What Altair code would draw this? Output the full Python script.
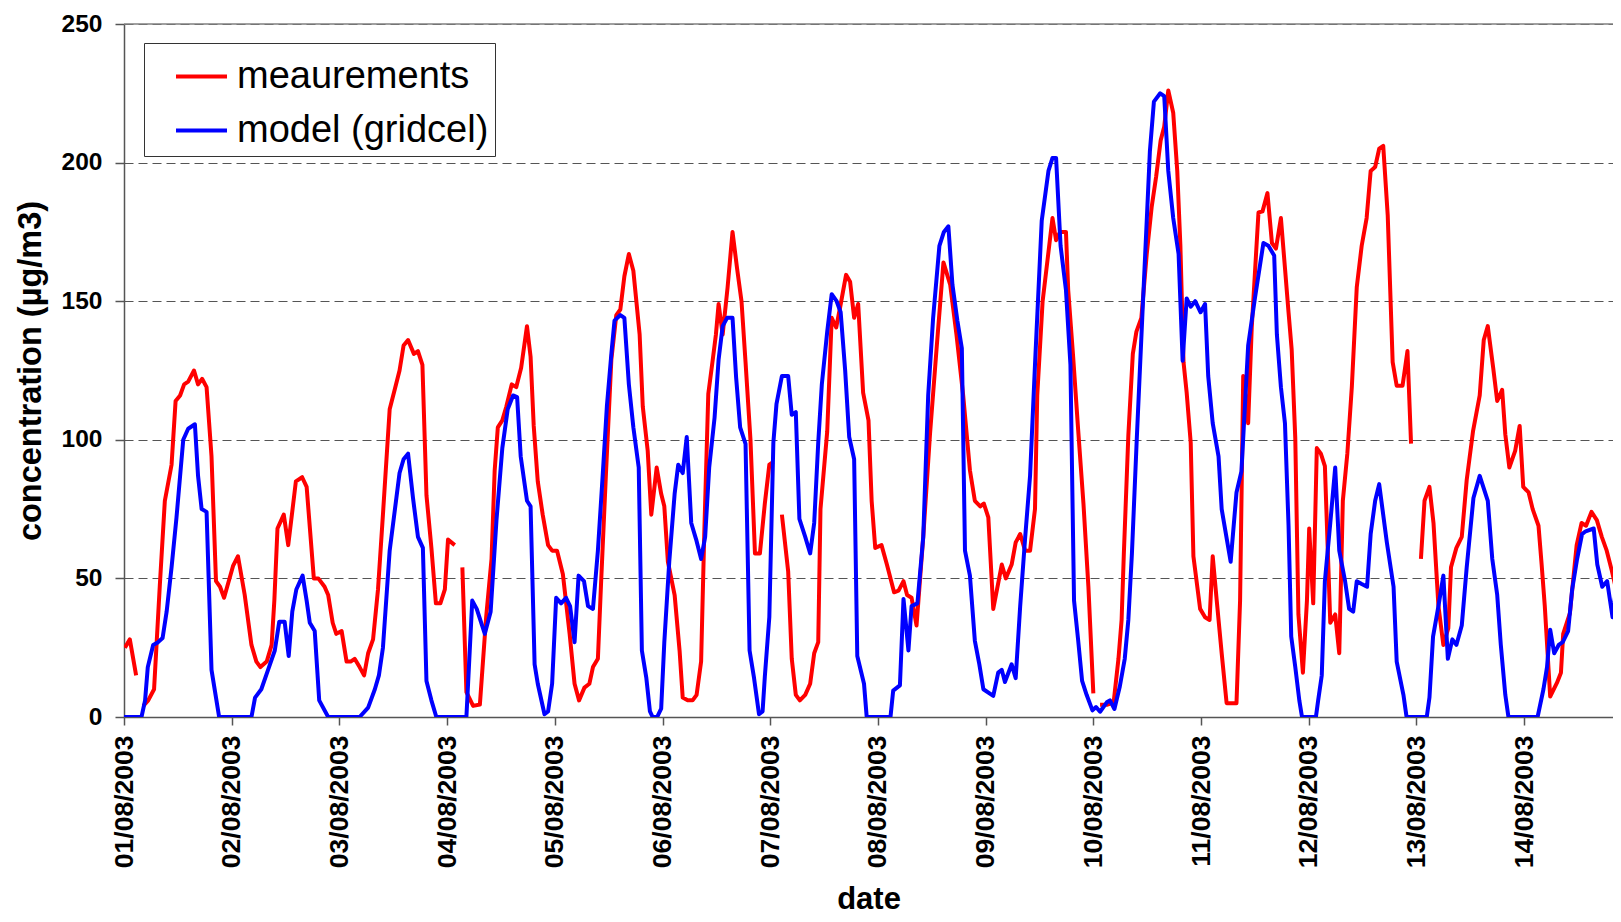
import altair as alt
import pandas as pd

# (hour since 01/08/2003 00:00, concentration); None = missing
meas_points = [
    (0.2, 25), (1.3, 28), (2.7, 15), (3.5, None), (4.3, 4), (5.4, 6), (6.7, 10), (8.0, 48), (9.1, 78),
    (10.6, 91), (11.5, 114), (12.5, 116), (13.4, 120), (14.3, 121), (15.6, 125), (16.5, 120), (17.4, 122),
    (18.4, 119), (19.5, 94), (20.5, 49), (21.4, 47), (22.3, 43), (24.3, 54.5), (25.4, 58), (26.9, 44),
    (28.4, 26), (29.5, 20), (30.4, 18), (31.8, 20), (32.9, 26), (33.5, 42), (34.2, 68), (35.6, 73),
    (36.6, 62), (38.3, 85), (39.7, 86.5), (40.7, 83), (42.3, 50), (43.3, 50), (44.7, 47), (45.5, 44),
    (46.5, 34), (47.3, 30), (48.5, 31), (49.6, 20), (50.5, 20), (51.4, 21), (52.5, 18), (53.5, 15),
    (54.4, 23), (55.5, 28), (56.6, 46), (57.7, 73), (59.2, 111), (60.3, 118), (61.4, 125), (62.3, 134),
    (63.3, 136), (64.6, 131), (65.5, 132), (66.5, 127), (67.4, 80), (68.5, 61), (69.5, 41), (70.5, 41),
    (71.5, 46), (72.2, 64), (73.7, 62), (74.5, None), (75.4, 54), (76.3, 9), (77.8, 4), (79.3, 4.5),
    (80.7, 36), (81.9, 57), (82.6, 89), (83.3, 104.5), (84.3, 107), (85.2, 112), (86.4, 120), (87.4, 119),
    (88.5, 126), (89.8, 141), (90.6, 130), (91.3, 105), (92.2, 85), (93.3, 73), (94.5, 62), (95.4, 60),
    (96.5, 60), (97.8, 51.5), (99.3, 30), (100.4, 12), (101.4, 6), (102.6, 10.6), (103.7, 12), (104.5, 18),
    (105.6, 21), (106.3, 48), (107.4, 88), (108.6, 129), (109.7, 145), (110.6, 147), (111.5, 159),
    (112.5, 167), (113.5, 161), (114.9, 138), (115.6, 112), (116.7, 96), (117.5, 73), (118.7, 90),
    (119.7, 80.5), (120.4, 76), (121.2, 56), (122.7, 44), (123.8, 24), (124.5, 7), (125.6, 6), (126.7, 6),
    (127.6, 8), (128.6, 20), (129.3, 66), (130.2, 116.5), (131.2, 129), (131.9, 138), (132.5, 149),
    (133.4, 138), (134.5, 155), (135.6, 175), (136.6, 162), (137.6, 150), (138.5, 128), (139.6, 100),
    (140.6, 59), (141.7, 59), (142.8, 77), (143.8, 91), (144.7, 92), (145.6, None), (146.6, 73), (148.0, 52.5),
    (148.8, 21), (149.7, 8), (150.6, 6), (151.8, 8), (152.9, 12), (153.8, 23), (154.7, 27), (155.2, 75),
    (156.7, 103), (157.7, 144), (158.7, 140.5), (159.6, 148), (160.9, 159.5), (161.8, 157), (162.7, 144),
    (163.6, 149), (164.7, 117), (165.9, 107), (166.6, 78), (167.4, 61), (168.8, 62), (170.0, 55),
    (171.6, 45), (172.6, 45.6), (173.7, 49), (174.5, 44), (175.5, 43), (176.6, 33), (178.1, 65),
    (179.6, 102), (181.1, 133.5), (182.6, 164), (184.1, 156), (185.5, 138), (187.0, 116), (188.5, 89),
    (189.6, 78), (190.8, 76), (191.6, 77), (192.6, 72), (193.7, 39), (195.6, 55), (196.5, 50), (197.8, 55),
    (198.7, 63), (199.7, 66), (200.8, 60), (201.9, 60), (203.0, 75), (203.5, 116), (204.7, 150),
    (205.8, 165), (206.9, 180), (207.7, 172), (208.6, 175), (209.9, 175), (210.4, 154), (211.5, 130),
    (212.6, 104), (213.8, 77), (214.9, 47), (216.0, 8.5), (216.8, None), (217.5, 4.4), (219.0, 4.4),
    (220.1, 5), (220.6, 6.3), (221.6, 21), (222.3, 35), (222.8, 59), (223.8, 101.5), (224.8, 131),
    (225.6, 139), (226.7, 144), (227.9, 167), (229.0, 184), (230.0, 195), (231.0, 208), (231.8, 213),
    (232.7, 226), (233.8, 218), (234.7, 197), (235.4, 170), (236.1, 128), (236.8, 117), (237.7, 99),
    (238.3, 58), (239.8, 39), (240.9, 36), (241.9, 35), (242.6, 58), (243.5, 42), (244.6, 23), (245.7, 5),
    (247.9, 5), (248.7, 42), (249.4, 123), (250.5, 106), (251.3, 140.5), (252.8, 182), (253.7, 182.4),
    (254.8, 189), (255.8, 171), (256.7, 169), (257.8, 180), (258.7, 162), (259.5, 146), (260.2, 132.5),
    (261.0, 100.6), (261.7, 37), (262.7, 16), (263.6, 42), (264.1, 68), (265.0, 41), (265.8, 97),
    (266.7, 95), (267.6, 90.5), (268.8, 34), (269.9, 37), (270.8, 23), (271.6, 78), (272.6, 95),
    (273.6, 119), (274.7, 155), (275.8, 170), (276.9, 180), (277.8, 197), (278.8, 198.4), (279.7, 205),
    (280.6, 206), (281.6, 181), (282.7, 128), (283.6, 119.5), (284.9, 119.5), (286.0, 132), (286.8, 98.6),
    (288.0, None), (289.0, 57), (289.8, 78), (290.9, 83), (291.8, 70), (292.9, 40), (294.0, 26),
    (295.1, 32), (295.7, 54), (296.9, 61), (298.1, 65), (299.2, 85.5), (300.6, 103), (302.1, 116),
    (303.0, 136), (303.9, 141), (305.1, 126), (306.0, 114), (307.1, 118), (307.8, 102), (308.7, 90),
    (310.0, 96), (311.0, 105), (311.8, 83), (313.0, 81), (313.9, 75), (315.2, 69), (315.9, 55),
    (316.6, 40), (317.8, 7.4), (319.3, 12.3), (320.2, 16), (320.7, 30), (322.2, 37.5), (323.7, 62),
    (324.8, 70), (325.8, 69), (327.0, 74), (328.2, 71), (329.3, 65), (330.4, 60), (331.5, 53),
    (332.5, 46), (333.4, 35),
]

model_points = [
    (0, 0), (3.9, 0), (4.7, 6), (5.3, 18), (6.5, 26), (7.6, 27), (8.6, 28.5), (9.5, 38), (10.6, 54),
    (11.7, 72), (13.2, 100), (14.3, 104), (15.8, 105.6), (16.5, 87), (17.3, 75), (18.4, 74), (19.5, 17),
    (20.6, 6), (21.2, 0), (28.4, 0), (29.2, 7), (30.6, 10), (32.1, 17), (33.6, 24), (34.6, 34.4),
    (35.8, 34.4), (36.7, 22), (37.5, 38), (38.4, 46), (39.8, 51), (40.7, 42), (41.4, 34), (42.5, 31),
    (43.5, 6), (45.5, 0), (52.5, 0), (54.4, 3.4), (55.9, 10), (56.8, 15), (57.7, 25), (59.2, 60),
    (61.4, 88), (62.3, 93), (63.3, 95), (64.4, 79), (65.5, 65), (66.6, 61), (67.4, 13), (68.5, 6),
    (69.6, 0), (76.3, 0), (77.6, 42), (78.6, 39), (80.4, 30), (81.7, 38), (83.0, 71), (84.3, 97),
    (85.5, 111), (86.7, 116), (87.6, 115.4), (88.4, 94), (89.8, 78), (90.6, 76), (91.5, 19), (92.2, 12),
    (93.7, 1), (94.5, 2), (95.4, 12), (96.3, 43), (97.4, 41), (98.5, 43), (99.4, 40), (100.4, 27),
    (101.3, 51), (102.5, 49), (103.4, 40), (104.5, 39), (105.6, 60), (106.7, 88), (107.6, 112),
    (108.6, 131), (109.3, 143), (110.6, 145), (111.5, 144), (112.5, 120), (113.5, 104.5), (114.7, 90),
    (115.4, 24), (116.4, 14), (117.2, 2), (117.8, 0), (118.8, 0), (119.7, 3), (120.4, 27), (121.5, 56),
    (122.7, 80.5), (123.5, 91), (124.5, 88), (125.4, 101), (126.4, 70), (127.5, 64), (128.6, 57),
    (129.5, 65), (130.4, 90), (131.6, 108), (132.5, 129), (133.4, 141), (134.4, 144), (135.6, 144),
    (136.4, 122.5), (137.3, 104.5), (138.5, 98.5), (139.4, 24), (140.4, 14), (141.5, 1), (142.3, 2),
    (142.8, 14.6), (143.8, 36), (144.7, 99), (145.4, 113), (146.6, 123), (148.0, 123), (148.8, 109),
    (149.7, 110), (150.5, 71.5), (151.8, 65), (152.9, 59), (153.8, 70), (154.7, 99), (155.5, 120),
    (156.7, 139), (157.7, 152.5), (158.8, 150), (159.7, 146), (160.7, 125), (161.6, 101), (162.7, 93),
    (163.4, 22), (164.9, 12), (165.5, 0), (170.8, 0), (171.4, 9.5), (172.9, 11.4), (173.7, 42.6),
    (174.8, 24), (175.5, 40), (176.8, 41), (178.1, 65), (179.2, 116), (180.3, 144), (181.7, 170),
    (182.7, 175), (183.7, 177), (184.6, 156), (185.7, 143), (186.7, 133), (187.4, 60), (188.5, 51),
    (189.6, 27.5), (190.6, 19), (191.5, 10), (193.7, 7.6), (194.8, 16), (195.6, 17), (196.3, 12.6),
    (197.8, 19), (198.7, 14), (199.7, 40), (200.8, 64.5), (201.9, 87), (203.0, 127), (204.5, 179),
    (206.0, 197), (206.9, 201.7), (207.7, 201.7), (208.7, 170), (209.9, 154), (210.9, 127), (211.7, 42),
    (212.6, 28), (213.5, 13), (214.5, 8), (215.8, 2.4), (216.6, 3.6), (217.5, 1.9), (219.0, 5.3),
    (219.7, 6), (220.7, 2.9), (221.9, 11), (223.0, 21), (223.8, 35), (224.6, 59), (225.7, 101),
    (226.9, 144), (227.9, 179), (228.6, 204), (229.5, 222), (230.9, 225), (231.8, 224), (232.7, 197),
    (233.8, 180), (235.0, 167), (235.9, 128.5), (236.8, 151), (237.7, 148), (238.7, 150), (239.9, 146),
    (240.9, 149), (241.6, 123), (242.6, 106), (243.9, 94), (244.6, 75), (246.6, 56), (247.9, 81),
    (249.0, 88.6), (250.5, 134), (252.0, 151), (253.9, 171), (255.0, 170), (256.3, 166.5), (256.9, 138),
    (257.8, 119), (258.7, 106), (259.5, 69), (260.1, 29), (261.0, 18), (261.9, 6), (262.5, 0),
    (265.6, 0), (266.1, 6), (266.9, 15), (267.6, 49), (268.8, 70), (269.9, 90), (270.8, 60), (272.1, 49),
    (273.0, 39), (273.9, 38), (274.7, 49), (275.8, 48), (277.0, 47), (277.8, 66), (278.8, 78),
    (279.7, 84), (281.4, 63), (282.9, 47), (283.6, 20), (285.1, 8), (285.8, 0), (290.3, 0), (290.9, 7),
    (291.7, 29), (292.9, 40), (294.0, 51), (295.0, 21), (296.0, 28), (296.9, 26), (298.1, 33),
    (299.2, 54), (300.7, 79), (302.1, 87), (303.9, 78), (304.9, 57), (306.0, 44), (306.8, 26),
    (307.8, 8), (308.5, 0), (315.0, 0), (316.3, 10), (317.1, 18), (317.8, 31.5), (318.7, 23),
    (319.7, 26), (320.6, 27), (321.8, 31), (322.7, 46), (323.8, 57), (324.9, 66), (325.7, 67),
    (327.5, 68), (328.3, 55), (329.4, 47), (330.5, 49), (331.7, 36), (332.6, 48), (333.3, 45),
]

series_names = ["meaurements", "model (gridcel)"]
series_colors = ["#FF0000", "#0000FF"]
day_ticks = [0, 24, 48, 72, 96, 120, 144, 168, 192, 216, 240, 264, 288, 312]
y_ticks = [0, 50, 100, 150, 200, 250]
y_max = 250

rows = []
for name, pts in zip(series_names, [meas_points, model_points]):
    for h, v in pts:
        rows.append({"hour": h, "value": v, "series": name})
df = pd.DataFrame(rows)

FONT = "Liberation Sans"
AX = "#555555"

x_axis = alt.Axis(
    values=day_ticks,
    labelExpr="(floor(datum.value/24)+1 < 10 ? '0' : '') + (floor(datum.value/24)+1) + '/08/2003'",
    labelAngle=270, labelFont=FONT, labelFontSize=26.5, labelFontWeight="bold", labelColor="black",
    labelPadding=10, labelFlush=False, labelOverlap=False,
    tickSize=8, tickColor=AX, tickWidth=1.5, domainColor=AX, domainWidth=1.5, grid=False,
    title="date", titleFont=FONT, titleFontSize=31, titleFontWeight="bold", titleColor="black",
    titleBaseline="alphabetic", titleY=191,
)
y_axis = alt.Axis(
    values=y_ticks, labelFont=FONT, labelFontSize=24.5, labelFontWeight="bold", labelColor="black",
    labelPadding=13, tickSize=9, tickColor=AX, tickWidth=1.5, domainColor=AX, domainWidth=1.5,
    grid=True, gridDash=[9, 5], gridColor=AX, gridWidth=1,
    title="concentration (µg/m3)", titleFont=FONT, titleFontSize=32.5, titleFontWeight="bold",
    titleColor="black", titlePadding=14,
)

lines = alt.Chart(df).mark_line(strokeWidth=4, strokeJoin="round", clip=True).encode(
    x=alt.X("hour:Q", scale=alt.Scale(domain=[0, 331.8], nice=False, zero=False), axis=x_axis),
    y=alt.Y("value:Q", scale=alt.Scale(domain=[0, y_max], nice=False), axis=y_axis),
    color=alt.Color(
        "series:N",
        scale=alt.Scale(domain=series_names, range=series_colors),
        legend=alt.Legend(
            title=None, orient="none", legendX=20, legendY=19, direction="vertical",
            symbolType="stroke", symbolSize=2601, symbolStrokeWidth=4,
            labelFont=FONT, labelFontSize=38, labelColor="black", labelLimit=600,
            padding=6, rowPadding=7, symbolOffset=24, labelOffset=8,
            strokeColor="#333333", fillColor="white",
        ),
    ),
)

top_rule = alt.Chart(pd.DataFrame({"v": [y_max]})).mark_rule(color="#808080", strokeWidth=1.5).encode(
    y=alt.datum(y_max)
)

chart = alt.layer(lines, top_rule).properties(
    width=1489, height=693,
    autosize=alt.AutoSizeParams(type="none"),
    padding={"left": 116, "top": 16, "right": 0, "bottom": 200},
    background="white",
).configure_view(stroke=None)

chart.save("out.html", embed_options={"renderer": "svg", "actions": False})
